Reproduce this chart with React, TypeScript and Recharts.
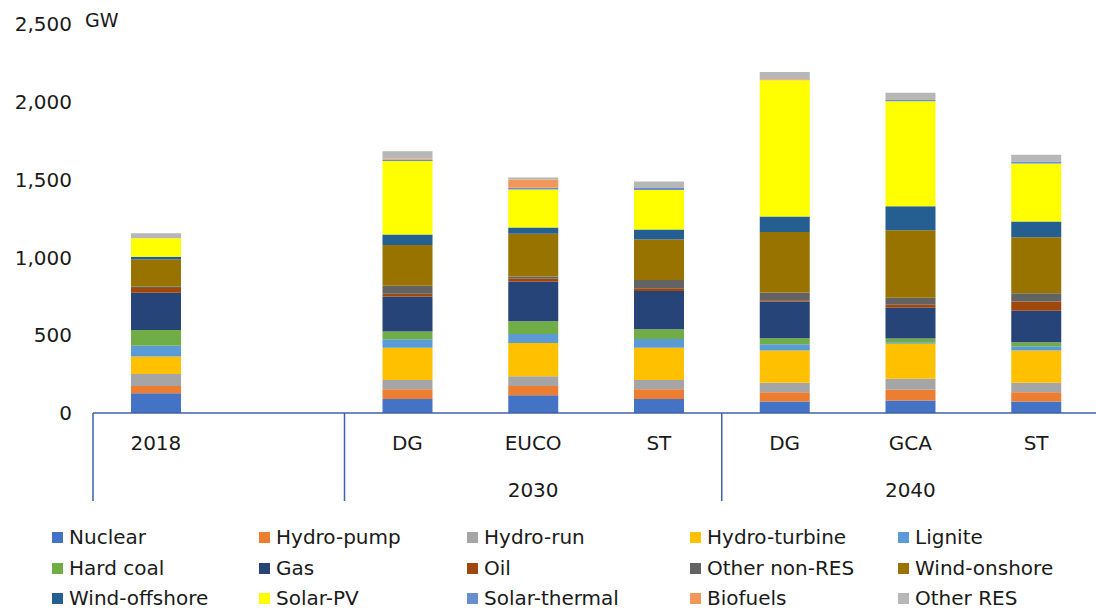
import React from "react";
import { BarChart, Bar, XAxis, YAxis } from "recharts";

// Installed capacity per scenario, GW
const categories = ["2018", "", "DG", "EUCO", "ST", "DG", "GCA", "ST"];
const groups = ["", "", "2030", "2030", "2030", "2040", "2040", "2040"];

const nuclear = [127, null, 90, 114, 90, 74, 80, 74];
const hydroPump = [47, null, 62, 60, 62, 60, 70, 60];
const hydroRun = [77, null, 60, 62, 60, 60, 70, 60];
const hydroTurbine = [112, null, 208, 214, 208, 208, 225, 208];
const lignite = [70, null, 54, 58, 56, 40, 6, 27];
const hardCoal = [100, null, 49, 81, 62, 38, 28, 26];
const gas = [240, null, 225, 255, 246, 236, 197, 202];
const oil = [30, null, 19, 19, 17, 8, 19, 60];
const otherNonRes = [8, null, 51, 15, 53, 51, 45, 53];
const windOnshore = [176, null, 261, 274, 261, 388, 435, 360];
const windOffshore = [17, null, 68, 40, 64, 100, 154, 100];
const solarPv = [119, null, 473, 244, 254, 876, 674, 373];
const solarThermal = [0, null, 9, 11, 13, 0, 8, 13];
const biofuels = [0, null, 6, 53, 0, 6, 0, 0];
const otherRes = [32, null, 47, 13, 41, 47, 47, 43];

const yTicks = [0, 500, 1000, 1500, 2000, 2500];

const series = [
  { name: "Nuclear", values: nuclear, color: "#4472C4" },
  { name: "Hydro-pump", values: hydroPump, color: "#ED7D31" },
  { name: "Hydro-run", values: hydroRun, color: "#A5A5A5" },
  { name: "Hydro-turbine", values: hydroTurbine, color: "#FFC000" },
  { name: "Lignite", values: lignite, color: "#5B9BD5" },
  { name: "Hard coal", values: hardCoal, color: "#70AD47" },
  { name: "Gas", values: gas, color: "#264478" },
  { name: "Oil", values: oil, color: "#9E480E" },
  { name: "Other non-RES", values: otherNonRes, color: "#636363" },
  { name: "Wind-onshore", values: windOnshore, color: "#997300" },
  { name: "Wind-offshore", values: windOffshore, color: "#255E91" },
  { name: "Solar-PV", values: solarPv, color: "#FFFF00" },
  { name: "Solar-thermal", values: solarThermal, color: "#698ED0" },
  { name: "Biofuels", values: biofuels, color: "#F1975A" },
  { name: "Other RES", values: otherRes, color: "#B7B7B7" },
];

const data = categories.map((category, i) => {
  const row: Record<string, string | number | null> = { category, group: groups[i] };
  series.forEach((s) => {
    row[s.name] = s.values[i];
  });
  return row;
});

const CHART_WIDTH = 1100;
const Y_AXIS_WIDTH = 93;
const MARGIN_RIGHT = 1;
const STEP = (CHART_WIDTH - Y_AXIS_WIDTH - MARGIN_RIGHT) / categories.length;
const AXIS_COLOR = "#3F62A8";
const TEXT_COLOR = "#1a1a1a";

function groupMiddle(g: string) {
  const idx = groups.map((v, i) => (v === g ? i : -1)).filter((i) => i >= 0);
  return idx[Math.floor(idx.length / 2)];
}

// two-level category axis: scenario on the first row, year below, with separators
function CategoryTick(props: any) {
  const { x, y, payload } = props;
  const i = payload.index;
  const g = groups[i];
  const startsGroup = i === 0 || g !== groups[i - 1];
  return (
    <g>
      {startsGroup && (
        <line
          x1={x - STEP / 2}
          x2={x - STEP / 2}
          y1={y}
          y2={y + 88}
          stroke={AXIS_COLOR}
          strokeWidth={1.5}
        />
      )}
      <text x={x} y={y + 30} dy="0.35em" textAnchor="middle" fontSize={20} fill={TEXT_COLOR}>
        {payload.value}
      </text>
      {g !== "" && groupMiddle(g) === i && (
        <text x={x} y={y + 77} dy="0.35em" textAnchor="middle" fontSize={20} fill={TEXT_COLOR}>
          {g}
        </text>
      )}
    </g>
  );
}

const legendCols = [52, 259, 467, 690, 898];
const legendRows = [537, 568, 598];

function LegendBlock() {
  return (
    <>
      {series.map((s, i) => (
        <div
          key={s.name}
          style={{
            position: "absolute",
            left: legendCols[i % 5],
            top: legendRows[Math.floor(i / 5)] - 12,
            height: 24,
            display: "flex",
            alignItems: "center",
            fontSize: 20,
            color: TEXT_COLOR,
            whiteSpace: "nowrap",
          }}
        >
          <span
            style={{ width: 11, height: 11, background: s.color, marginRight: 6, display: "inline-block" }}
          />
          {s.name}
        </div>
      ))}
    </>
  );
}

export default function App() {
  return (
    <div
      style={{
        position: "absolute",
        left: 0,
        top: 0,
        width: 1096,
        height: 610,
        overflow: "hidden",
        background: "#fff",
        fontFamily: "'DejaVu Sans', Verdana, sans-serif",
      }}
    >
      <BarChart
        width={CHART_WIDTH}
        height={510}
        data={data}
        margin={{ top: 24, right: MARGIN_RIGHT, left: 0, bottom: 7 }}
      >
        <XAxis
          dataKey="category"
          interval={0}
          height={90}
          tickLine={false}
          tickSize={0}
          tickMargin={0}
          axisLine={{ stroke: AXIS_COLOR, strokeWidth: 1.5 }}
          tick={<CategoryTick />}
        />
        <YAxis
          width={Y_AXIS_WIDTH}
          domain={[0, 2500]}
          ticks={yTicks}
          interval={0}
          axisLine={false}
          tickLine={false}
          tickSize={0}
          tickMargin={21}
          tick={{ fontSize: 20, fill: TEXT_COLOR }}
          tickFormatter={(v: number) => v.toLocaleString("en-US")}
          label={{
            content: (p: any) => (
              <text
                x={p.viewBox.x + p.viewBox.width - 8}
                y={p.viewBox.y + 3}
                fontSize={19}
                fill={TEXT_COLOR}
              >
                GW
              </text>
            ),
          }}
        />
        {series.map((s) => (
          <Bar
            key={s.name}
            dataKey={s.name}
            stackId="cap"
            fill={s.color}
            barSize={50}
            isAnimationActive={false}
          />
        ))}
      </BarChart>
      <LegendBlock />
    </div>
  );
}
